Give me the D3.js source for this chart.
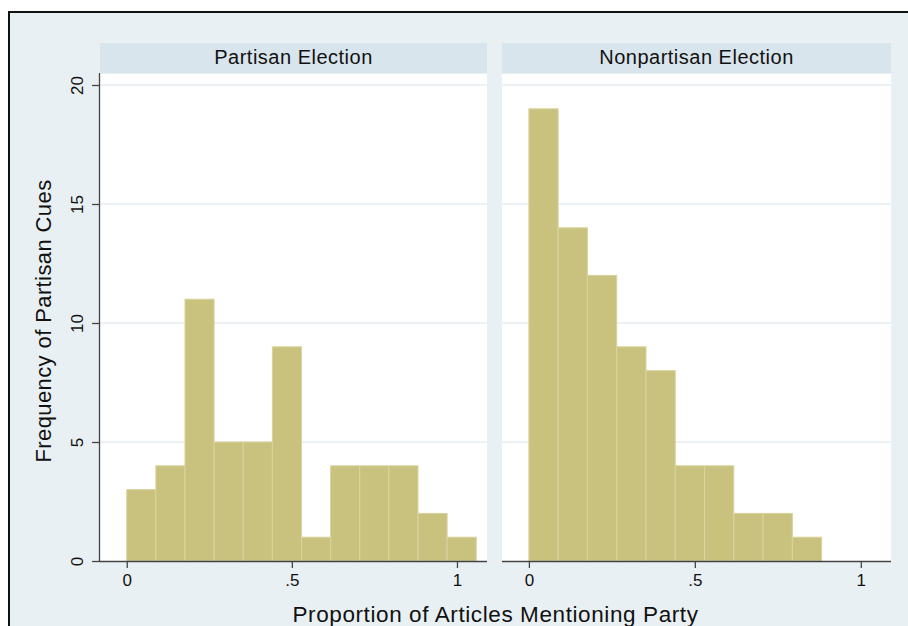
<!DOCTYPE html>
<html>
<head>
<meta charset="utf-8">
<script src="https://cdn.jsdelivr.net/npm/d3@7"></script>
<style>
  html, body { margin: 0; padding: 0; background: #ffffff; }
  svg { display: block; font-family: "Liberation Sans", Arial, Helvetica, sans-serif; }
</style>
</head>
<body>
<svg id="chart" width="908" height="626"></svg>
<script>
// ---- data ----
const panelTitles = ["Partisan Election", "Nonpartisan Election"];
const binWidth = 0.0882;
const partisanCounts = [3, 4, 11, 5, 5, 9, 1, 4, 4, 4, 2, 1];
const nonpartisanCounts = [19, 14, 12, 9, 8, 4, 4, 2, 2, 1];
const xTickValues = [0, 0.5, 1];
const xTickLabels = ["0", ".5", "1"];
const yTickValues = [0, 5, 10, 15, 20];
const yTickLabels = ["0", "5", "10", "15", "20"];
const xTitle = "Proportion of Articles Mentioning Party";
const yTitle = "Frequency of Partisan Cues";

// ---- layout ----
const svg = d3.select("#chart");
const W = 908, H = 626;
const bg = "#e9f0f3", strip = "#d9e5ec", barFill = "#c9c27f", barStroke = "#d9d39e", grid = "#e4edf0";

svg.append("rect").attr("width", W).attr("height", H).attr("fill", "#ffffff");
svg.append("rect").attr("x", 9).attr("y", 12).attr("width", W).attr("height", H).attr("fill", bg);
svg.append("path").attr("d", `M9,${H} V12 H${W}`).attr("fill", "none").attr("stroke", "#111").attr("stroke-width", 2);

const plotTop = 73, plotBottom = 561;
const panels = [
  { left: 100, right: 487, counts: partisanCounts, title: panelTitles[0], yAxis: true },
  { left: 502, right: 891, counts: nonpartisanCounts, title: panelTitles[1], yAxis: false }
];
const y = d3.scaleLinear().domain([0, 20]).range([plotBottom, 85]);

panels.forEach(p => {
  const x = d3.scaleLinear().domain([-0.081, 1.091]).range([p.left, p.right]);
  const g = svg.append("g");
  // strip
  g.append("rect").attr("x", p.left).attr("y", 43).attr("width", p.right - p.left).attr("height", 30).attr("fill", strip);
  g.append("text").attr("x", (p.left + p.right) / 2).attr("y", 64)
    .attr("text-anchor", "middle").attr("font-size", 20).attr("letter-spacing", 0.5).attr("fill", "#111").text(p.title);
  // plot area
  g.append("rect").attr("x", p.left).attr("y", plotTop + 1).attr("width", p.right - p.left).attr("height", plotBottom - plotTop - 1).attr("fill", "#fff");
  // grid
  g.selectAll("line.grid").data(yTickValues.filter(v => v > 0)).join("line")
    .attr("x1", p.left).attr("x2", p.right).attr("y1", d => y(d)).attr("y2", d => y(d))
    .attr("stroke", grid).attr("stroke-width", 1.5);
  // bars
  const bins = p.counts.map((c, i) => ({ x0: i * binWidth, x1: (i + 1) * binWidth, c }));
  g.selectAll("rect.bar").data(bins).join("rect").attr("class", "bar")
    .attr("x", d => x(d.x0)).attr("width", d => x(d.x1) - x(d.x0))
    .attr("y", d => y(d.c)).attr("height", d => y(0) - y(d.c))
    .attr("fill", barFill).attr("stroke", barStroke).attr("stroke-width", 1);
  // x axis
  const xa = g.append("g").attr("transform", `translate(0,${plotBottom})`)
    .call(d3.axisBottom(x).tickValues(xTickValues).tickFormat((d, i) => xTickLabels[i]).tickSize(7).tickSizeOuter(0));
  xa.select(".domain").attr("d", `M${p.left},0.5H${p.right}`).attr("stroke", "#444").attr("stroke-width", 1.3);
  xa.selectAll(".tick line").attr("stroke", "#444").attr("stroke-width", 1.3);
  xa.selectAll(".tick text").attr("font-size", 17).attr("font-family", "Liberation Sans, Arial, sans-serif").attr("fill", "#111").attr("dy", "0.9em");
  if (p.yAxis) {
    const ya = g.append("g").attr("transform", `translate(${p.left},0)`)
      .call(d3.axisLeft(y).tickValues(yTickValues).tickFormat((d, i) => yTickLabels[i]).tickSize(8).tickSizeOuter(0));
    ya.select(".domain").attr("d", `M-0.5,${plotBottom}V${plotTop}`).attr("stroke", "#444").attr("stroke-width", 1.3);
    ya.selectAll(".tick line").attr("stroke", "#444").attr("stroke-width", 1.3);
    ya.selectAll(".tick text").attr("font-size", 17).attr("font-family", "Liberation Sans, Arial, sans-serif").attr("fill", "#111")
      .attr("text-anchor", "middle").attr("x", null).attr("dy", null)
      .attr("transform", "translate(-23.5,0) rotate(-90) translate(0,6)");
  }
});

// axis titles
svg.append("text").attr("x", (panels[0].left + panels[1].right) / 2).attr("y", 622)
  .attr("text-anchor", "middle").attr("font-size", 22.5).attr("letter-spacing", 0.6).attr("fill", "#111").text(xTitle);
svg.append("text").attr("transform", `translate(51,${(plotTop + plotBottom) / 2 + 4}) rotate(-90)`)
  .attr("text-anchor", "middle").attr("font-size", 22).attr("letter-spacing", 0.4).attr("fill", "#111").text(yTitle);
</script>
</body>
</html>
